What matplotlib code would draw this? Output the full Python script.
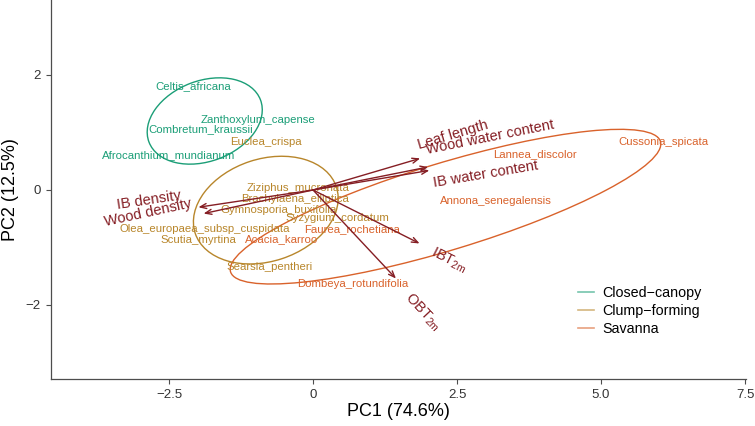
"""PCA biplot of tree species traits with group ellipses and trait loadings."""
import matplotlib
matplotlib.use("Agg")
import matplotlib.pyplot as plt
from matplotlib.patches import Ellipse
from matplotlib.lines import Line2D
import numpy as np

plt.rcParams["font.family"] = ["Liberation Sans", "DejaVu Sans"]
plt.rcParams["mathtext.default"] = "regular"

# ── species scores (label positions) ────────────────────────────────────────
species = [
    "Celtis_africana", "Zanthoxylum_capense", "Combretum_kraussii",
    "Afrocanthium_mundianum", "Euclea_crispa", "Ziziphus_mucronata",
    "Brachylaena_elliptica", "Gymnosporia_buxifolia", "Syzygium_cordatum",
    "Olea_europaea_subsp_cuspidata", "Scutia_myrtina", "Searsia_pentheri",
    "Faurea_rochetiana", "Acacia_karroo", "Dombeya_rotundifolia",
    "Annona_senegalensis", "Lannea_discolor", "Cussonia_spicata",
]
group = [
    "Closed-canopy", "Closed-canopy", "Closed-canopy", "Closed-canopy",
    "Clump-forming", "Clump-forming", "Clump-forming", "Clump-forming",
    "Clump-forming", "Clump-forming", "Clump-forming", "Clump-forming",
    "Savanna", "Savanna", "Savanna", "Savanna", "Savanna", "Savanna",
]
pc1 = [-2.08, -0.95, -1.95, -2.51, -0.82, -0.26, -0.31, -0.59, 0.42,
       -1.88, -1.99, -0.76, 0.67, -0.54, 0.69, 3.17, 3.85, 6.09]
pc2 = [1.81, 1.22, 1.06, 0.61, 0.84, 0.03, -0.16, -0.35, -0.49,
       -0.68, -0.87, -1.34, -0.68, -0.86, -1.63, -0.20, 0.62, 0.83]

# ── trait loadings (arrow tips) and label positions ─────────────────────────
traits = ["Leaf length", "Wood water content", "IB water content",
          r"IBT$_{2m}$", r"OBT$_{2m}$", "IB density", "Wood density"]
load1 = [1.86, 2.00, 2.02, 1.85, 1.44, -1.99, -1.90]
load2 = [0.55, 0.40, 0.34, -0.93, -1.54, -0.30, -0.41]
lab1 = [2.43, 3.07, 2.99, 2.36, 1.91, -2.85, -2.87]
lab2 = [0.96, 0.92, 0.28, -1.22, -2.12, -0.17, -0.40]

# ── 95% ellipses per group (centre, semi-axes, angle in degrees) ────────────
ell_group = ["Closed-canopy", "Clump-forming", "Savanna"]
ell_cx = [-1.88, -0.82, 2.30]
ell_cy = [1.20, -0.35, -0.29]
ell_a = [1.035, 1.29, 3.90]
ell_b = [0.70, 0.89, 0.756]
ell_angle = [20.8, 18.2, 16.9]

GROUP_COLOR = {
    "Closed-canopy": "#1B9E77",
    "Clump-forming": "#B8862B",
    "Savanna": "#D9622B",
}
ARROW_COLOR = "#851E24"
AXIS_COLOR = "#4D4D4D"

fig = plt.figure(figsize=(7.55, 4.26), dpi=100)
ax = fig.add_axes([51 / 755, 47 / 426, 695 / 755, 379 / 426])

for g, cx, cy, a, b, ang in zip(ell_group, ell_cx, ell_cy, ell_a, ell_b, ell_angle):
    ax.add_patch(Ellipse((cx, cy), 2 * a, 2 * b, angle=ang, fill=False,
                         edgecolor=GROUP_COLOR[g], lw=1.0, zorder=2))

for name, g, x, y in zip(species, group, pc1, pc2):
    ax.text(x, y, name, color=GROUP_COLOR[g], fontsize=8.2,
            ha="center", va="center", zorder=3)

for t, x, y, lx, ly in zip(traits, load1, load2, lab1, lab2):
    ax.annotate("", xy=(x, y), xytext=(0, 0),
                arrowprops=dict(arrowstyle="->,head_length=0.45,head_width=0.18",
                                color=ARROW_COLOR, lw=1.0,
                                shrinkA=0, shrinkB=0), zorder=4)
    rot = np.degrees(np.arctan(y / x))
    ax.text(lx, ly, t, color=ARROW_COLOR, fontsize=10.5, rotation=rot,
            rotation_mode="anchor", ha="center", va="center", zorder=5)

ax.set_xlim(-4.549, 7.517)
ax.set_ylim(-3.287, 3.304)
ax.set_xticks([-2.5, 0, 2.5, 5.0, 7.5])
ax.set_xticklabels(["\u22122.5", "0", "2.5", "5.0", "7.5"])
ax.set_yticks([-2, 0, 2])
ax.set_yticklabels(["\u22122", "0", "2"])
ax.tick_params(colors=AXIS_COLOR, labelcolor="#333333", labelsize=9.5,
               length=3.5, width=0.8, pad=4)
for side in ["top", "right"]:
    ax.spines[side].set_visible(False)
for side in ["left", "bottom"]:
    ax.spines[side].set_color(AXIS_COLOR)
    ax.spines[side].set_linewidth(0.9)

ax.set_xlabel("PC1 (74.6%)", fontsize=13, labelpad=1)
ax.set_ylabel("PC2 (12.5%)", fontsize=13, labelpad=5)

handles = [Line2D([0], [0], color=GROUP_COLOR[g], lw=1.2, alpha=0.6)
           for g in ell_group]
labels = ["Closed\u2212canopy", "Clump\u2212forming", "Savanna"]
ax.legend(handles, labels, loc="upper left", bbox_to_anchor=(0.758, 0.246),
          frameon=False, fontsize=10.3, handlelength=1.1, handletextpad=0.6,
          labelspacing=0.3, borderpad=0, borderaxespad=0)

fig.savefig("out.png", dpi=100)
plt.close(fig)
